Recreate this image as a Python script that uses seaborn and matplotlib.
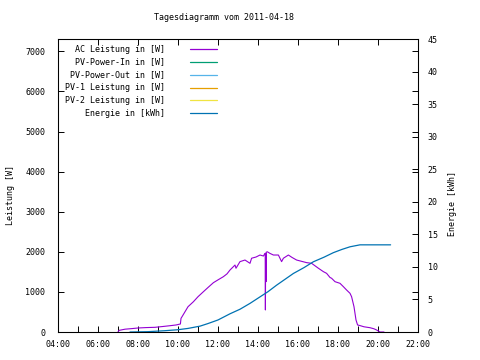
import matplotlib
matplotlib.use('Agg')
import seaborn as sns
from matplotlib import pyplot as plt

# AC power of the day (hours, watt)
ac_hours = [7.0, 7.05, 7.35, 7.7, 8.0, 8.4, 8.85, 9.2, 9.6, 9.9, 10.12, 10.15, 10.2,
            10.5, 10.77, 11.0, 11.27, 11.5, 11.77, 12.0, 12.27, 12.45, 12.6, 12.85, 12.9,
            13.1, 13.35, 13.6, 13.68, 13.9, 14.1, 14.27, 14.35, 14.36, 14.37, 14.38, 14.40,
            14.41, 14.47, 14.6, 14.77, 15.02, 15.18, 15.27, 15.52, 15.7, 15.93, 16.2, 16.43,
            16.68, 17.02, 17.27, 17.43, 17.6, 17.68, 17.85, 18.1, 18.27, 18.43, 18.6, 18.68,
            18.8, 18.9, 18.98, 19.1, 19.3, 19.6, 19.8, 19.93, 20.1, 20.3]
ac_watt = [0, 40, 70, 85, 100, 110, 117, 135, 157, 175, 200, 340, 380,
           630, 755, 880, 1005, 1110, 1230, 1300, 1380, 1450, 1546, 1670, 1590,
           1755, 1795, 1713, 1840, 1870, 1920, 1895, 1960, 1960, 550, 1960, 1255,
           1990, 2000, 1960, 1920, 1920, 1755, 1840, 1920, 1860, 1795, 1760, 1730,
           1713, 1590, 1505, 1463, 1360, 1340, 1255, 1214, 1130, 1047, 965, 880,
           630, 300, 175, 160, 130, 107, 80, 50, 0, 0]

# cumulated energy (hours, kWh)
energy_hours = [7.6, 8.5, 9.35, 10.0, 10.5, 11.1, 11.5, 12.0, 12.6, 13.1, 13.6, 14.1,
                14.5, 14.93, 15.35, 15.77, 16.3, 16.77, 17.3, 17.77, 18.2, 18.6, 19.1, 20.63]
energy_kwh = [0, 0.05, 0.2, 0.35, 0.55, 0.9, 1.3, 1.85, 2.8, 3.5, 4.4, 5.4,
              6.2, 7.2, 8.1, 9.0, 9.9, 10.8, 11.5, 12.2, 12.7, 13.1, 13.4, 13.4]

legend_labels = ['AC Leistung in [W]', 'PV-Power-In in [W]', 'PV-Power-Out in [W]',
                 'PV-1 Leistung in [W]', 'PV-2 Leistung in [W]', 'Energie in [kWh]']
legend_colors = ['#9400d3', '#009e73', '#56b4e9', '#e69f00', '#f0e442', '#0072b2']

hour_ticks = [4, 6, 8, 10, 12, 14, 16, 18, 20, 22]
hour_labels = ['04:00', '06:00', '08:00', '10:00', '12:00', '14:00', '16:00',
               '18:00', '20:00', '22:00']
hour_minor = [5, 7, 9, 11, 13, 15, 17, 19, 21]
power_ticks = [0, 1000, 2000, 3000, 4000, 5000, 6000, 7000]
energy_ticks = [0, 5, 10, 15, 20, 25, 30, 35, 40, 45]

sns.set_theme(style='white')
plt.rcParams['font.family'] = ['DejaVu Sans Mono']
plt.rcParams['axes.linewidth'] = 0.75
plt.rcParams['axes.edgecolor'] = 'black'
for a in ('xtick', 'ytick'):
    plt.rcParams[a + '.direction'] = 'in'
    plt.rcParams[a + '.major.size'] = 4
    plt.rcParams[a + '.minor.size'] = 4
    plt.rcParams[a + '.major.width'] = 0.7
    plt.rcParams[a + '.minor.width'] = 0.7
    plt.rcParams[a + '.color'] = 'black'
    plt.rcParams[a + '.labelcolor'] = 'black'
    plt.rcParams[a + '.labelsize'] = 6

fig = plt.figure(figsize=(4.8, 3.6), dpi=100)
ax = fig.add_axes([58 / 480, 28 / 360, 360 / 480, 292.7 / 360])
ax2 = ax.twinx()

sns.lineplot(x=ac_hours, y=ac_watt, ax=ax, color=legend_colors[0], lw=0.8,
             estimator=None, sort=False)
sns.lineplot(x=energy_hours, y=energy_kwh, ax=ax2, color=legend_colors[5], lw=0.9,
             estimator=None, sort=False)

ax.set_xlim(4, 22)
ax.set_ylim(0, 7300)
ax2.set_ylim(0, 45)

ax.set_xticks(hour_ticks)
ax.set_xticklabels(hour_labels)
ax.set_xticks(hour_minor, minor=True)
ax.set_yticks(power_ticks)
ax.set_yticklabels([str(v) for v in power_ticks])
ax2.set_yticks(energy_ticks)
ax2.set_yticklabels([str(v) for v in energy_ticks])

ax.tick_params(axis='both', which='both', direction='in', top=True, right=True,
               bottom=True, left=True)
ax.tick_params(axis='x', which='minor', top=False)
ax.tick_params(axis='y', pad=9)
ax.tick_params(axis='x', pad=6)
ax2.tick_params(axis='y', which='both', direction='in', right=True, left=False, pad=7)

ax.set_ylabel('Leistung [W]', fontsize=6, color='black')
ax.yaxis.set_label_coords(-0.119, 0.468)
ax2.set_ylabel('Energie [kWh]', fontsize=6, color='black')
ax2.yaxis.set_label_coords(1.083, 0.44)
ax.set_xlabel('')

# gnuplot style key: text right aligned, line sample right of it
for i, (lab, col) in enumerate(zip(legend_labels, legend_colors)):
    ypx = 49 + 12.85 * i
    ya = (332 - ypx) / 292.7
    ax.text((165 - 58) / 360, ya, lab, ha='right', va='center', fontsize=6,
            color='black', transform=ax.transAxes)
    ax.plot([(190 - 58) / 360, (217 - 58) / 360], [ya, ya], color=col, lw=0.9,
            transform=ax.transAxes)

fig.text(224 / 480, 1 - 18 / 360, 'Tagesdiagramm vom 2011-04-18', ha='center',
         va='center', fontsize=6, color='black')

fig.savefig('out.png', dpi=100)
